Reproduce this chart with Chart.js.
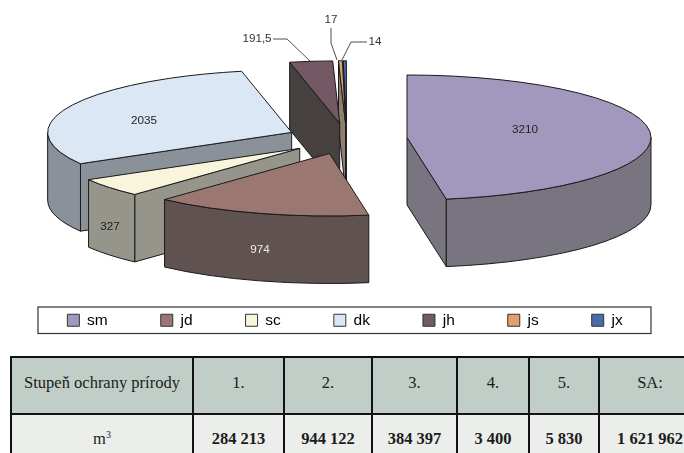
<!DOCTYPE html>
<html>
<head>
<meta charset="utf-8">
<script src="https://cdn.jsdelivr.net/npm/chart.js@4"></script>
<style>
  html, body { margin: 0; padding: 0; background: #fff; width: 684px; height: 453px; overflow: hidden; }
  #pie { position: absolute; left: 0; top: 0; }
  #volumes {
    position: absolute; left: 10px; top: 356px; width: 690px;
    border-collapse: collapse; table-layout: fixed;
    font-family: "Liberation Serif", serif; font-size: 16.5px; color: #1c1c1c; text-align: center;
  }
  #volumes td { border: 2px solid #111; padding: 0; }
  #volumes tr:first-child td { background: #c0cec7; height: 50px; padding-bottom: 5px; }
  #volumes tr:last-child td { background: #eceeeb; height: 50px; font-weight: bold; vertical-align: top; padding-top: 14px; }
  #volumes tr:last-child td:first-child { font-weight: normal; }
  #volumes sup { font-size: 10px; line-height: 0; }
</style>
</head>
<body>
<canvas id="pie" width="684" height="338"></canvas>
<table id="volumes"></table>
<script>
const species = ["sm", "jd", "sc", "dk", "jh", "js", "jx"];
const amounts = [3210, 974, 327, 2035, 191.5, 17, 14];

const protectionHeader = "Stupeň ochrany prírody";
const protectionDegrees = ["1.", "2.", "3.", "4.", "5.", "SA:"];
const volumeUnit = "m<sup>3</sup>";
const volumes = ["284 213", "944 122", "384 397", "3 400", "5 830", "1 621 962"];

const topColors = ["#a297bd", "#9b7772", "#f8f5dc", "#dbe7f5", "#745864", "#e0a070", "#4a6ca8"];
const wallColors = ["#787480", "#5f5250", "#95958c", "#8a9198", "#46403f", "#8f7f6e", "#2e3a50"];
const columnWidths = [182, 91, 88, 85, 72, 70, 102];

// pie look: excel style flattened pie with pulled out slices
const pieCenter = { x: 346.8, y: 138.7 };
const pieRadius = 244;
const squash = 0.256;
const explode = 60.4;
const depth = 67.5;
const outline = "#1a1a1a";

// value labels and their leader lines
const labelSpots = [
  { x: 525, y: 130, color: "#222" },
  { x: 260, y: 250, color: "#f3efdc" },
  { x: 110, y: 227, color: "#222" },
  { x: 144, y: 121, color: "#222" },
  { x: 257, y: 39, color: "#333" },
  { x: 331, y: 20, color: "#333" },
  { x: 375, y: 42, color: "#333" }
];
const leaders = [
  [[273, 39], [287, 39], [310, 61]],
  [[331, 28], [331, 43], [337, 60]],
  [[367, 42], [351, 42], [342, 60]]
];

// geometry of one slice on the page
function sliceInfo(el) {
  const mid = (el.startAngle + el.endAngle) / 2;
  return {
    cx: pieCenter.x + Math.cos(mid) * explode,
    cy: pieCenter.y + Math.sin(mid) * explode * squash,
    rx: el.outerRadius,
    ry: el.outerRadius * squash,
    a0: el.startAngle,
    a1: el.endAngle
  };
}

function radialWall(ctx, s, angle) {
  const px = s.cx + Math.cos(angle) * s.rx;
  const py = s.cy + Math.sin(angle) * s.ry;
  ctx.beginPath();
  ctx.moveTo(s.cx, s.cy);
  ctx.lineTo(px, py);
  ctx.lineTo(px, py + depth);
  ctx.lineTo(s.cx, s.cy + depth);
  ctx.closePath();
  ctx.fill();
  ctx.stroke();
}

function drawWalls(ctx, s) {
  // only the faces turned to the viewer
  if (Math.cos(s.a0) < 0) radialWall(ctx, s, s.a0);
  if (Math.cos(s.a1) > 0) radialWall(ctx, s, s.a1);
  const from = Math.max(s.a0, 0);
  const to = Math.min(s.a1, Math.PI);
  if (to > from) {
    ctx.beginPath();
    ctx.ellipse(s.cx, s.cy, s.rx, s.ry, 0, from, to);
    ctx.ellipse(s.cx, s.cy + depth, s.rx, s.ry, 0, to, from, true);
    ctx.closePath();
    ctx.fill();
    ctx.stroke();
  }
}

const pie3d = {
  id: "pie3d",
  beforeDatasetsDraw(chart) {
    const ctx = chart.ctx;
    const arcs = chart.getDatasetMeta(0).data;
    ctx.save();
    ctx.lineWidth = 1;
    ctx.lineJoin = "round";
    ctx.strokeStyle = outline;
    for (let i = arcs.length - 1; i >= 0; i--) {
      ctx.fillStyle = wallColors[i];
      drawWalls(ctx, sliceInfo(arcs[i]));
    }
    for (let i = arcs.length - 1; i >= 0; i--) {
      const s = sliceInfo(arcs[i]);
      ctx.save();
      ctx.translate(s.cx, s.cy);
      ctx.scale(1, squash);
      ctx.translate(-arcs[i].x, -arcs[i].y);
      arcs[i].draw(ctx);
      ctx.restore();
      ctx.beginPath();
      ctx.moveTo(s.cx, s.cy);
      ctx.ellipse(s.cx, s.cy, s.rx, s.ry, 0, s.a0, s.a1);
      ctx.closePath();
      ctx.stroke();
    }
    ctx.restore();
    return false;
  },
  afterDraw(chart) {
    const ctx = chart.ctx;
    ctx.save();
    // leader lines
    ctx.strokeStyle = "#222";
    ctx.lineWidth = 0.8;
    leaders.forEach(line => {
      ctx.beginPath();
      line.forEach((p, i) => i ? ctx.lineTo(p[0], p[1]) : ctx.moveTo(p[0], p[1]));
      ctx.stroke();
    });
    // value labels
    ctx.font = '11.7px "Liberation Sans"';
    ctx.textAlign = "center";
    ctx.textBaseline = "middle";
    amounts.forEach((v, i) => {
      ctx.fillStyle = labelSpots[i].color;
      ctx.fillText(String(v).replace(".", ","), labelSpots[i].x, labelSpots[i].y);
    });
    // legend frame
    ctx.strokeStyle = "#333";
    ctx.lineWidth = 1.2;
    ctx.strokeRect(38, 307, 613, 26.5);
    ctx.restore();
  }
};

new Chart(document.getElementById("pie"), {
  type: "pie",
  data: {
    labels: species,
    datasets: [{
      data: amounts,
      backgroundColor: topColors,
      borderWidth: 0,
      radius: pieRadius,
      clip: false
    }]
  },
  options: {
    responsive: false,
    animation: false,
    layout: { padding: { left: 6 } },
    plugins: {
      tooltip: { enabled: false },
      legend: {
        position: "bottom",
        labels: {
          boxWidth: 12,
          boxHeight: 12,
          padding: 53,
          color: "#000",
          font: { family: "Liberation Sans", size: 15.5 },
          generateLabels(chart) {
            const items = Chart.overrides.doughnut.plugins.legend.labels.generateLabels(chart);
            items.forEach(it => { it.lineWidth = 1; it.strokeStyle = "#333"; });
            return items;
          }
        }
      }
    }
  },
  plugins: [pie3d]
});

// table under the chart
const table = document.getElementById("volumes");
const colgroup = "<colgroup>" + columnWidths.map(w => `<col style="width:${w}px">`).join("") + "</colgroup>";
const headRow = [protectionHeader].concat(protectionDegrees).map(t => `<td>${t}</td>`).join("");
const valueRow = [volumeUnit].concat(volumes).map(t => `<td>${t}</td>`).join("");
table.innerHTML = `${colgroup}<tr>${headRow}</tr><tr>${valueRow}</tr>`;
</script>
</body>
</html>
